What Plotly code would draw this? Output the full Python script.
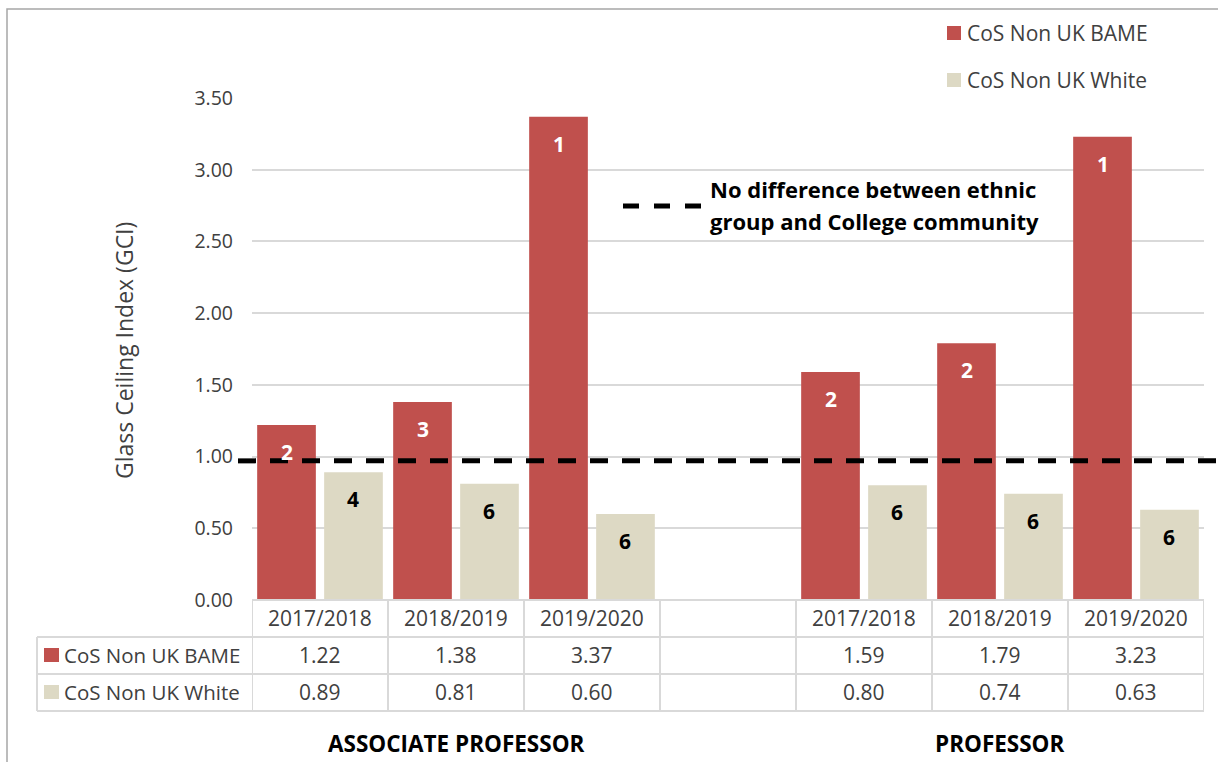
import plotly.graph_objects as go

# ---- data -------------------------------------------------------------
years = ["2017/2018", "2018/2019", "2019/2020"]
groups = ["ASSOCIATE PROFESSOR", "PROFESSOR"]
series_names = ["CoS Non UK BAME", "CoS Non UK White"]

assoc_bame = [1.22, 1.38, 3.37]
assoc_white = [0.89, 0.81, 0.60]
prof_bame = [1.59, 1.79, 3.23]
prof_white = [0.80, 0.74, 0.63]

# rank shown inside each bar
assoc_bame_rank = [2, 3, 1]
assoc_white_rank = [4, 6, 6]
prof_bame_rank = [2, 2, 1]
prof_white_rank = [6, 6, 6]

parity_level = 0.97
y_ticks = [0.0, 0.5, 1.0, 1.5, 2.0, 2.5, 3.0, 3.5]

# ---- layout constants --------------------------------------------------
W, H = 1218, 762
L, R, T, B = 252, 1204, 98, 600   # plot area in pixels
RED = "#C0504D"
BEIGE = "#DDD9C4"
GRID = "#D9D9D9"
TXT = "#404040"
FONT = "Open Sans"
BARGAP = 0.015


def px_x(x):
    return (x - L) / (R - L)


def px_y(y):
    return (B - y) / (B - T)


# category slots: three years per group with one empty slot between groups
assoc_pos = [0, 1, 2]
prof_pos = [4, 5, 6]
positions = assoc_pos + prof_pos
bame = assoc_bame + prof_bame
white = assoc_white + prof_white
bame_rank = assoc_bame_rank + prof_bame_rank
white_rank = assoc_white_rank + prof_white_rank

fig = go.Figure()
fig.add_trace(go.Bar(x=positions, y=bame, name=series_names[0],
                     marker=dict(color=RED, line=dict(width=0))))
fig.add_trace(go.Bar(x=positions, y=white, name=series_names[1],
                     marker=dict(color=BEIGE, line=dict(width=0))))

shapes = []
ann = []

# outer chart frame
shapes.append(dict(type="rect", xref="paper", yref="paper",
                   x0=px_x(7), x1=px_x(1240), y0=px_y(790), y1=px_y(9),
                   line=dict(color="#A6A6A6", width=1.5), layer="below"))

# parity reference line
shapes.append(dict(type="line", xref="paper", yref="y",
                   x0=px_x(238), x1=px_x(1230), y0=parity_level, y1=parity_level,
                   line=dict(color="black", width=5, dash="18px,14px"), layer="above"))
# its key
shapes.append(dict(type="line", xref="paper", yref="paper",
                   x0=px_x(623), x1=px_x(704), y0=px_y(206), y1=px_y(206),
                   line=dict(color="black", width=5, dash="16px,15px")))
ann.append(dict(xref="paper", yref="paper", x=px_x(708), y=px_y(189),
                text="<b>No difference between ethnic</b>", showarrow=False,
                xanchor="left", yanchor="middle",
                font=dict(family=FONT, size=22, color="black")))
ann.append(dict(xref="paper", yref="paper", x=px_x(708), y=px_y(221),
                text="<b>group and College community</b>", showarrow=False,
                xanchor="left", yanchor="middle",
                font=dict(family=FONT, size=22, color="black")))

# series legend (top right)
for i, (name, col) in enumerate(zip(series_names, [RED, BEIGE])):
    cy = 33 + i * 47
    shapes.append(dict(type="rect", xref="paper", yref="paper",
                       x0=px_x(947), x1=px_x(961), y0=px_y(cy + 7), y1=px_y(cy - 7),
                       fillcolor=col, line=dict(width=0)))
    ann.append(dict(xref="paper", yref="paper", x=px_x(965), y=px_y(cy),
                    text=name, showarrow=False, xanchor="left", yanchor="middle",
                    font=dict(family=FONT, size=21, color=TXT)))

# rank labels inside the top of each bar
off = (1 - BARGAP) / 4
for p, v, r in zip(positions, bame, bame_rank):
    ann.append(dict(xref="x", yref="y", x=p - off, y=v, yshift=-27,
                    text=f"<b>{r}</b>", showarrow=False, yanchor="middle",
                    font=dict(family=FONT, size=21, color="white")))
for p, v, r in zip(positions, white, white_rank):
    ann.append(dict(xref="x", yref="y", x=p + off, y=v, yshift=-27,
                    text=f"<b>{r}</b>", showarrow=False, yanchor="middle",
                    font=dict(family=FONT, size=21, color="black")))

# ---- data table under the axis -----------------------------------------
tline = dict(color=GRID, width=2)
row_y = [600, 637, 674, 711]
shapes.append(dict(type="line", xref="paper", yref="paper",
                   x0=0, x1=1, y0=px_y(row_y[0]), y1=px_y(row_y[0]), line=tline))
for yy in row_y[1:]:
    shapes.append(dict(type="line", xref="paper", yref="paper",
                       x0=px_x(37), x1=1, y0=px_y(yy), y1=px_y(yy), line=tline))
shapes.append(dict(type="line", xref="paper", yref="paper",
                   x0=px_x(37), x1=px_x(37), y0=px_y(row_y[1]), y1=px_y(row_y[3]),
                   line=tline))
for k in range(8):
    xb = k - 0.5
    shapes.append(dict(type="line", xref="x", yref="paper",
                       x0=xb, x1=xb, y0=px_y(row_y[0]), y1=px_y(row_y[3]),
                       line=tline))

header_cy, row1_cy, row2_cy = 618, 655, 692
for pos_list, bvals, wvals in [(assoc_pos, assoc_bame, assoc_white),
                               (prof_pos, prof_bame, prof_white)]:
    for p, yr, bv, wv in zip(pos_list, years, bvals, wvals):
        for txt, cy in [(yr, header_cy), (f"{bv:.2f}", row1_cy), (f"{wv:.2f}", row2_cy)]:
            ann.append(dict(xref="x", yref="paper", x=p, y=px_y(cy), text=txt,
                            showarrow=False, xanchor="center", yanchor="middle",
                            font=dict(family=FONT, size=21, color=TXT)))

for name, col, cy in [(series_names[0], RED, row1_cy), (series_names[1], BEIGE, row2_cy)]:
    shapes.append(dict(type="rect", xref="paper", yref="paper",
                       x0=px_x(44), x1=px_x(59), y0=px_y(cy + 7), y1=px_y(cy - 7),
                       fillcolor=col, line=dict(width=0)))
    ann.append(dict(xref="paper", yref="paper", x=px_x(62), y=px_y(cy), text=name,
                    showarrow=False, xanchor="left", yanchor="middle",
                    font=dict(family=FONT, size=20.5, color=TXT)))

# group titles
for g, center in zip(groups, [assoc_pos[1], prof_pos[1]]):
    ann.append(dict(xref="x", yref="paper", x=center, y=px_y(743), text=f"<b>{g}</b>",
                    showarrow=False, xanchor="center", yanchor="middle",
                    font=dict(family=FONT, size=22.5, color="black")))

# y axis title
ann.append(dict(xref="paper", yref="paper", x=px_x(124), y=px_y(351),
                text="Glass Ceiling Index (GCI)", textangle=-90, showarrow=False,
                xanchor="center", yanchor="middle",
                font=dict(family=FONT, size=23, color=TXT)))

fig.update_layout(
    width=W, height=H,
    margin=dict(l=L, r=W - R, t=T, b=H - B, pad=0),
    paper_bgcolor="white", plot_bgcolor="white",
    barmode="group", bargap=BARGAP, bargroupgap=0.124,
    showlegend=False,
    shapes=shapes, annotations=ann,
    xaxis=dict(range=[-0.5, 6.5], showticklabels=False, showgrid=False,
               zeroline=False, showline=False, fixedrange=True),
    yaxis=dict(range=[0, 3.5], tickvals=y_ticks,
               ticktext=[f"{v:.2f}" for v in y_ticks],
               showgrid=True, gridcolor=GRID, gridwidth=1.5,
               zeroline=False, showline=False, ticks="",
               ticklabelstandoff=18,
               tickfont=dict(family=FONT, size=19.5, color=TXT)),
)

fig.write_html("out.html")
